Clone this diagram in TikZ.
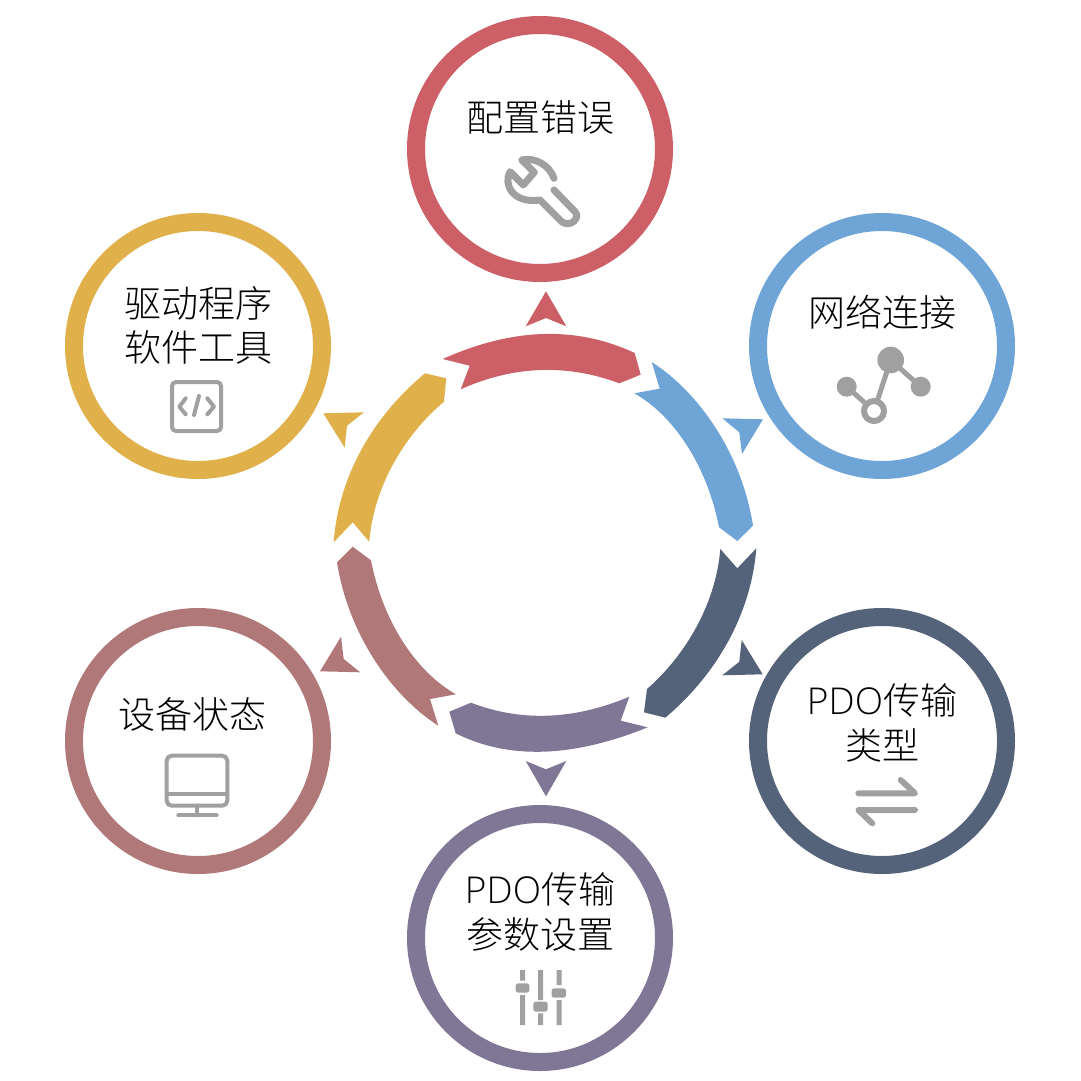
\documentclass[tikz,border=0pt]{standalone}
\usepackage{fontspec}
\setmainfont{Open Sans Light}
\newfontfamily\cjk{Noto Sans CJK SC Light}
\definecolor{cred}{HTML}{CD5F67}
\definecolor{cblue}{HTML}{6FA4D7}
\definecolor{cnavy}{HTML}{54637A}
\definecolor{cpurple}{HTML}{7F7795}
\definecolor{crose}{HTML}{B07878}
\definecolor{cyellow}{HTML}{E0B04A}
\definecolor{cicon}{HTML}{A0A0A0}
\tikzset{
  ring/.style={circle,draw=#1,line width=18pt,minimum size=248pt,inner sep=0pt,fill=white},
  caption/.style={inner sep=0pt,text=black,font=\fontsize{37}{44}\selectfont\cjk},
  ico/.style={draw=cicon,line cap=round,line join=round,line width=#1},
  ico/.default=4pt
}
\begin{document}
\begin{tikzpicture}[x=1pt,y=-1pt]
\useasboundingbox (0,0) rectangle (1080,1081);
% rings
\node[ring=cred]    (r1) at (540,149) {};
\node[ring=cblue]   (r2) at (882,346) {};
\node[ring=cnavy]   (r3) at (882,741) {};
\node[ring=cpurple] (r4) at (540,938) {};
\node[ring=crose]   (r5) at (198,741) {};
\node[ring=cyellow] (r6) at (198,346) {};
% labels
\node[caption] (t1) at (540,117) {配置错误};
\node[caption] (t2) at (882,312) {网络连接};
\node[caption] (t3a) at (882,700) {{\rmfamily PDO}传输};
\node[caption] (t3b) at (882,745) {类型};
\node[caption] (t4a) at (540,889) {{\rmfamily PDO}传输};
\node[caption] (t4b) at (540,934) {参数设置};
\node[caption] (t5) at (192,714) {设备状态};
\node[caption] (t6a) at (198,303) {驱动程序};
\node[caption] (t6b) at (198,347) {软件工具};
% circular arrows
\fill[cred] (442.7,359) .. controls (512.4,327.7) and (576.4,325.7) .. (634.7,353) -- (640.7,374.7) -- (619.3,383.3)
  .. controls (566.4,363.6) and (513.6,365.6) .. (460.7,389.3) -- (469.7,365.7) -- cycle;
\fill[cblue] (651.7,362) .. controls (700,393) and (742,455) .. (753,525.7) -- (737.3,541) -- (719,527.3)
  .. controls (707,465) and (673,415) .. (634.3,393.3) -- (659.7,388.7) -- cycle;
\fill[cnavy] (720.3,549) -- (737.3,568.3) -- (756.3,548.3) .. controls (752,605) and (724,668) .. (665.3,717.7)
  -- (644,712.3) -- (647,689) .. controls (686,655) and (716,603) .. (720.3,549) -- cycle;
\fill[cpurple] (647.7,727.3) .. controls (572.5,757.8) and (508.5,759.8) .. (455.7,733.3) -- (449.3,711.7) -- (471,702.7)
  .. controls (521.3,722) and (574.1,720) .. (629.3,696.7) -- (620.7,720.7) -- cycle;
\fill[crose] (438.3,725.7) .. controls (390,694.6) and (348,632.6) .. (337,562.3) -- (352.7,546.7) -- (371,560.3)
  .. controls (383,622.6) and (417,672.6) .. (456,694.3) -- (430,699) -- cycle;
\fill[cyellow] (333.7,542.3) .. controls (337.6,485.6) and (365.6,422.6) .. (425,373.3) -- (446.3,378.3) -- (444,401.7)
  .. controls (403.6,435.6) and (373.6,487.6) .. (369.3,541.7) -- (352.7,522.3) -- cycle;
% small arrowheads
\fill[cred] (546,291.3) -- (566.3,326.3) -- (546,318) -- (525.7,326.3) -- cycle;
\fill[cblue] (722.3,418.3) -- (763,419.3) -- (742,454) -- (739.3,432.3) -- cycle;
\fill[cnavy] (741.7,640) -- (762.7,674.3) -- (722.3,675.3) -- (739.3,661.7) -- cycle;
\fill[cpurple] (525.7,761) -- (546,769.3) -- (566.3,761) -- (546,796.3) -- cycle;
\fill[crose] (341,636.7) -- (343.7,659) -- (360.3,672.3) -- (320,671.3) -- cycle;
\fill[cyellow] (323.3,413.3) -- (364,412.3) -- (347,425.7) -- (344.7,447.7) -- cycle;
% wrench
\draw[ico=7pt] (554,178.3) .. controls (550,166.7) and (536.7,156.7) .. (521.7,160) -- (534.3,172.3) -- (523.3,185) -- (510,171.7)
  .. controls (503.3,183.3) and (511.7,204) .. (540,200) -- (561.7,221.7) .. controls (570,228) and (581,218) .. (575,211.7) -- (554,190);
% network
\node[circle,fill=cicon,minimum size=26.6pt,inner sep=0pt] (n1) at (890.7,360) {};
\node[circle,fill=cicon,minimum size=20pt,inner sep=0pt] (n2) at (846.7,386.7) {};
\node[circle,fill=cicon,minimum size=20pt,inner sep=0pt] (n3) at (920.7,386.7) {};
\node[circle,draw=cicon,line width=6pt,minimum size=20pt,inner sep=0pt] (n4) at (874,411) {};
\draw[ico=5pt] (n1) -- (n3);
\draw[ico=5pt] (n1) -- (n4);
\draw[ico=5pt] (n2) -- (n4);
% code
\draw[ico,rounded corners=4pt] (172,382) rectangle (221,431);
\draw[ico] (185.7,398.3) -- (179.3,406.7) -- (185.7,414.3);
\draw[ico] (207.3,398.3) -- (214,406.7) -- (207.3,414.3);
\draw[ico] (199,396) -- (194,415);
% monitor
\draw[ico,rounded corners=5pt] (166.7,755.7) rectangle (227.3,805.7);
\draw[ico] (166.7,794.3) -- (227.3,794.3);
\draw[ico] (197,805.7) -- (197,815.3);
\draw[ico] (178.3,815.3) -- (216.7,815.3);
% transfer arrows
\draw[ico=6pt] (858.3,793.3) -- (915,793.3) -- (900.7,780);
\draw[ico=6pt] (915,810) -- (858.3,810) -- (872.3,823.3);
% sliders
\fill[cicon] (520,970) rectangle (525,980.7) (520,995) rectangle (525,1025);
\fill[cicon] (538.2,970) rectangle (543.2,1000) (538.2,1013.3) rectangle (543.2,1025);
\fill[cicon] (556.5,970) rectangle (561.5,985) (556.5,1000) rectangle (561.5,1025);
\fill[cicon,rounded corners=2.5pt] (515.7,983.3) rectangle (529.3,992.7);
\fill[cicon,rounded corners=2.5pt] (533.3,1001.7) rectangle (547.7,1011.7);
\fill[cicon,rounded corners=2.5pt] (551.7,988.3) rectangle (566,997.7);
\end{tikzpicture}
\end{document}
